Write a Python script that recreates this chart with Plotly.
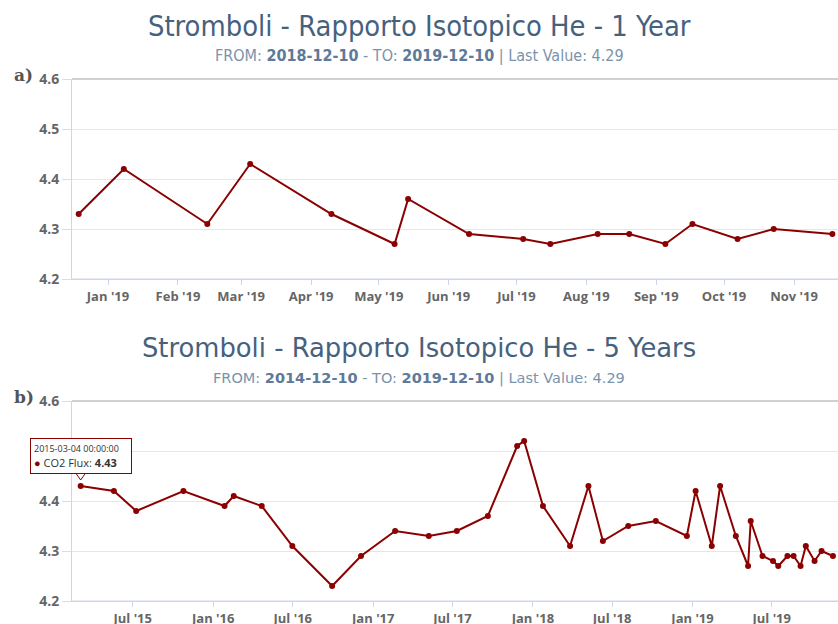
import plotly.graph_objects as go

# ---- data ----
dates = ["2015-03-04", "2015-05-19", "2015-07-09", "2015-10-25", "2016-01-27", "2016-02-17",
         "2016-04-21", "2016-06-30", "2016-09-29", "2016-12-04", "2017-02-20", "2017-05-08",
         "2017-07-11", "2017-09-20", "2017-11-26", "2017-12-12", "2018-01-24", "2018-03-27",
         "2018-05-08", "2018-06-10", "2018-08-07", "2018-10-09", "2018-12-19", "2019-01-08",
         "2019-02-14", "2019-03-05", "2019-04-10", "2019-05-08", "2019-05-14", "2019-06-10",
         "2019-07-04", "2019-07-16", "2019-08-06", "2019-08-20", "2019-09-05", "2019-09-17",
         "2019-10-07", "2019-10-23", "2019-11-18"]
values = [4.43, 4.42, 4.38, 4.42, 4.39, 4.41,
          4.39, 4.31, 4.23, 4.29, 4.34, 4.33,
          4.34, 4.37, 4.51, 4.52, 4.39, 4.31,
          4.43, 4.32, 4.35, 4.36, 4.33, 4.42,
          4.31, 4.43, 4.33, 4.27, 4.36, 4.29,
          4.28, 4.27, 4.29, 4.29, 4.27, 4.31,
          4.28, 4.30, 4.29]

one_year_from = "2018-12-10"
one_year_to = "2019-12-10"
five_year_from = "2014-12-10"
five_year_to = "2019-12-10"
last_value = 4.29

title_1y = "Stromboli - Rapporto Isotopico He - 1 Year"
title_5y = "Stromboli - Rapporto Isotopico He - 5 Years"
series_name = "CO2 Flux"

dates_1y = [d for d in dates if d >= one_year_from]
values_1y = [v for d, v in zip(dates, values) if d >= one_year_from]

LINE = "#8b0000"
W, H = 838, 624

fig = go.Figure()
fig.add_trace(go.Scatter(x=dates_1y, y=values_1y, mode="lines+markers", name=series_name,
                         line=dict(color=LINE, width=2), marker=dict(size=6, color=LINE),
                         xaxis="x", yaxis="y", showlegend=False))
fig.add_trace(go.Scatter(x=dates, y=values, mode="lines+markers", name=series_name,
                         line=dict(color=LINE, width=2), marker=dict(size=6, color=LINE),
                         xaxis="x2", yaxis="y2", showlegend=False))

def py(pix):
    return 1 - pix / H

xl = 72 / W
COND = "DejaVu Sans Condensed, Liberation Sans Narrow, DejaVu Sans"
tick_font = dict(family="Open Sans", size=13, color="#666666", weight="bold")
ytick_font = dict(family="Open Sans", size=14, color="#666666", weight="bold")

xcommon = dict(type="date", tickformat="%b '%y", showgrid=False, showline=True,
               linecolor="#ccd6eb", linewidth=1, ticks="outside", ticklen=5,
               tickcolor="#ccd6eb", tickfont=tick_font, zeroline=False, automargin=False)
ycommon = dict(range=[4.2, 4.6], dtick=0.1, tickformat=".1f", showgrid=True,
               gridcolor="#e6e6e6", showline=True, linecolor="#ccd6eb", ticks="outside",
               ticklen=9, tickcolor="#d8dde6", tickfont=ytick_font, zeroline=False,
               automargin=False)

fig.update_layout(
    width=W, height=H, autosize=False,
    margin=dict(l=0, r=0, t=0, b=0, autoexpand=False),
    paper_bgcolor="white", plot_bgcolor="white",
    hovermode=False,
    xaxis=dict(domain=[xl, 1], anchor="y", range=["2018-12-16 01:00", "2019-11-20 12:00"],
               dtick="M1", tick0="2019-01-01", **xcommon),
    yaxis=dict(domain=[py(279), py(79)], anchor="x", **ycommon),
    xaxis2=dict(domain=[xl, 1], anchor="y2", range=["2015-02-12 05:00", "2019-11-29 14:00"],
                dtick="M6", tick0="2015-01-01", **xcommon),
    yaxis2=dict(domain=[py(601), py(401)], anchor="x2", **ycommon),
)

TITLE_C = "#46617e"
sub_color = "#7a93ad"
sub_bold = "#5e7a98"

def subtitle(a, b):
    return (f"FROM: <b><span style='color:{sub_bold}'>{a}</span></b> - TO: "
            f"<b><span style='color:{sub_bold}'>{b}</span></b> | Last Value: {last_value}")

ann = []
ann.append(dict(text=title_1y, x=0.5, y=py(26), xref="paper", yref="paper", showarrow=False,
                font=dict(family=COND, size=28.8, color=TITLE_C), xanchor="center", yanchor="middle"))
ann.append(dict(text=subtitle(one_year_from, one_year_to), x=0.5, y=py(55), xref="paper",
                yref="paper", showarrow=False, xanchor="center", yanchor="middle",
                font=dict(family=COND, size=16, color=sub_color)))
ann.append(dict(text=title_5y, x=0.5, y=py(348), xref="paper", yref="paper", showarrow=False,
                font=dict(family="DejaVu Sans", size=25.8, color=TITLE_C),
                xanchor="center", yanchor="middle"))
ann.append(dict(text=subtitle(five_year_from, five_year_to), x=0.5, y=py(378), xref="paper",
                yref="paper", showarrow=False, xanchor="center", yanchor="middle",
                font=dict(family="DejaVu Sans", size=14.5, color=sub_color)))
ann.append(dict(text="<b>a)</b>", x=12 / W, y=py(75), xref="paper", yref="paper",
                showarrow=False, xanchor="left", yanchor="middle",
                font=dict(family="DejaVu Serif", size=17, color="#555555")))
ann.append(dict(text="<b>b)</b>", x=12 / W, y=py(397), xref="paper", yref="paper",
                showarrow=False, xanchor="left", yanchor="middle",
                font=dict(family="DejaVu Serif", size=17, color="#555555")))
# tooltip
ann.append(dict(text=(f"<span style='font-size:9px'>{dates[0]} 00:00:00</span><br>"
                      f"<span style='color:{LINE}'>●</span> {series_name}: <b>{values[0]:.2f}</b>"),
                x=dates[0], y=values[0], xref="x2", yref="y2", showarrow=False,
                xanchor="center", yanchor="bottom", yshift=12, align="left",
                width=94, height=28,
                bgcolor="rgba(255,255,255,0.96)", bordercolor=LINE, borderwidth=1, borderpad=3,
                font=dict(family="Open Sans", size=11, color="#333333")))
fig.update_layout(annotations=ann)

shapes = []
for xr, yr in (("x", "y"), ("x2", "y2")):
    shapes.append(dict(type="line", xref=f"{xr} domain", yref=f"{yr} domain", x0=0, x1=1,
                       y0=1, y1=1, line=dict(color="#d0d0d0", width=2), layer="above"))
    shapes.append(dict(type="line", xref=f"{xr} domain", yref=f"{yr} domain", x0=0, x1=1,
                       y0=0, y1=0, line=dict(color="#ccd6eb", width=1), layer="above"))
shapes.append(dict(type="path", xref="x2", yref="y2", xsizemode="pixel", ysizemode="pixel",
                   xanchor=dates[0], yanchor=values[0], path="M -5,13 L 0,6 L 5,13",
                   fillcolor="white", line=dict(color=LINE, width=1), layer="above"))
fig.update_layout(shapes=shapes)

fig.write_html("out.html", config={"displayModeBar": False},
               post_script="document.body.style.margin='0';document.body.style.padding='0';"
                           "document.body.style.overflow='hidden';")
